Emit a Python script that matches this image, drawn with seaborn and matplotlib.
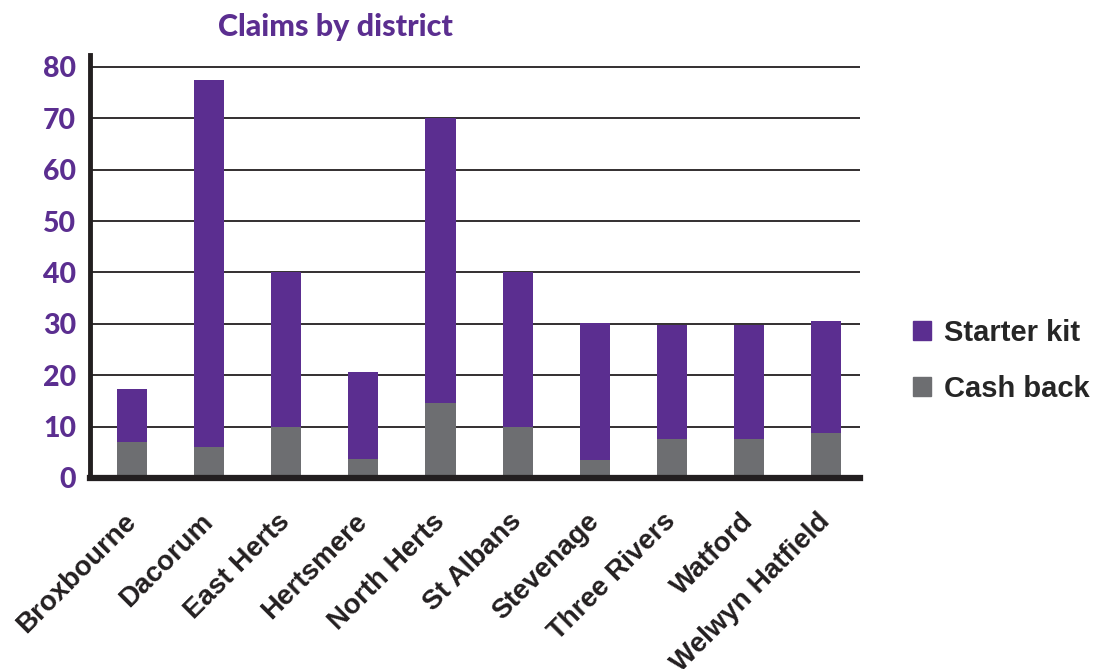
import matplotlib
matplotlib.use('Agg')
import matplotlib.pyplot as plt
import matplotlib.transforms as mtransforms
import seaborn as sns
import pandas as pd
from matplotlib.patches import Patch

districts = ['Broxbourne', 'Dacorum', 'East Herts', 'Hertsmere', 'North Herts',
             'St Albans', 'Stevenage', 'Three Rivers', 'Watford', 'Welwyn Hatfield']
cash_back = [7.0, 6.1, 10.0, 3.7, 14.6, 10.0, 3.5, 7.6, 7.6, 8.8]
starter_kit = [10.4, 71.3, 30.1, 16.9, 55.4, 30.0, 26.7, 22.2, 22.2, 21.8]
series = ['Starter kit', 'Cash back']
y_ticks = [0, 10, 20, 30, 40, 50, 60, 70, 80]

purple = '#5b2e90'
grey = '#6d6e71'
ink = '#231f20'

df = pd.DataFrame({'district': districts, 'cash_back': cash_back, 'starter_kit': starter_kit})
df['total'] = df['cash_back'] + df['starter_kit']

sns.set_style('white')
plt.rcParams['font.family'] = ['Liberation Sans', 'DejaVu Sans']

fig = plt.figure(figsize=(10.95, 6.69), dpi=100)
ax = fig.add_axes([90 / 1095, 1 - 478 / 669, 770 / 1095, 423 / 669])

# stacked: draw total first, then cash back over it
sns.barplot(data=df, x='district', y='total', color=purple, width=0.39,
            saturation=1, linewidth=0, ax=ax, zorder=3)
sns.barplot(data=df, x='district', y='cash_back', color=grey, width=0.39,
            saturation=1, linewidth=0, ax=ax, zorder=3)

ax.set_xlim(-0.545, 9.44)
ax.set_ylim(0, 82.3)
ax.set_axisbelow(True)
ax.yaxis.grid(True, color=ink, lw=1.3)
ax.xaxis.grid(False)
ax.set_xlabel('')
ax.set_ylabel('')

for s in ['top', 'right']:
    ax.spines[s].set_visible(False)
ax.spines['left'].set_linewidth(3.5)
ax.spines['left'].set_color(ink)
ax.spines['bottom'].set_linewidth(4.5)
ax.spines['bottom'].set_color(ink)
ax.spines['bottom'].set_zorder(5)

ax.set_yticks(y_ticks)
ax.set_yticklabels([str(t) for t in y_ticks], fontsize=20.5, fontweight='black',
                   color=purple, family=['Lato', 'DejaVu Sans'])
ax.tick_params(axis='y', length=0, pad=10)

ax.set_xticks(range(len(districts)))
ax.set_xticklabels(districts, rotation=45, ha='right', rotation_mode='anchor',
                   fontsize=20, fontweight='bold', color=ink)
ax.tick_params(axis='x', length=0, pad=22)
shift = mtransforms.ScaledTranslation(-9 / 100, 0, fig.dpi_scale_trans)
for lab in ax.get_xticklabels():
    lab.set_transform(lab.get_transform() + shift)

fig.text(335 / 1095, 1 - 27 / 669, 'Claims by district', ha='center', va='center',
         fontsize=22, fontweight='black', color=purple, family=['Lato', 'DejaVu Sans'])

handles = [Patch(color=purple), Patch(color=grey)]
fig.legend(handles, series, loc='center left', bbox_to_anchor=(887 / 1095, 1 - 361 / 669),
           frameon=False, prop={'weight': 'bold', 'size': 21},
           handlelength=0.62, handleheight=0.62, handletextpad=0.45, labelspacing=0.95)

fig.savefig('out.png', dpi=100)
plt.close(fig)
